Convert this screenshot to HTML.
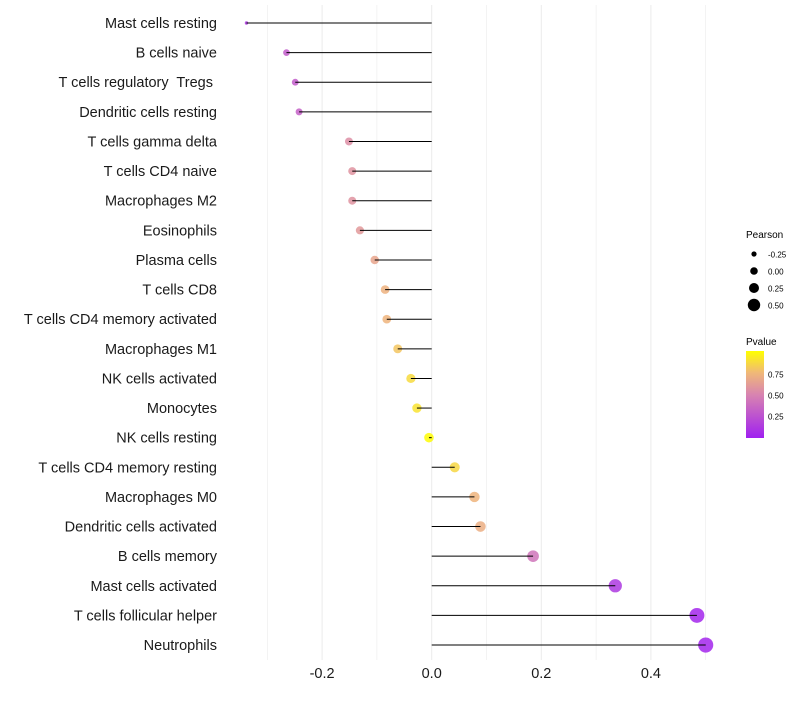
<!DOCTYPE html>
<html><head><meta charset="utf-8"><style>
body{margin:0;background:#fff;}
svg text{font-family:"Liberation Sans",sans-serif;white-space:pre;}
</style></head><body>
<svg id="chart" width="800" height="700" xmlns="http://www.w3.org/2000/svg">
<g id="grid"></g>
<g id="marks"></g>
<g id="ylabels"></g>
<g id="xlabels"></g>
<g>
<text x="746" y="238" font-size="10" fill="#000">Pearson</text>
<circle cx="754" cy="254" r="2.6" fill="#000"/><text x="768" y="257.5" font-size="8">-0.25</text>
<circle cx="754" cy="271" r="3.8" fill="#000"/><text x="768" y="274.5" font-size="8">0.00</text>
<circle cx="754" cy="288" r="5" fill="#000"/><text x="768" y="291.5" font-size="8">0.25</text>
<circle cx="754" cy="305" r="6.2" fill="#000"/><text x="768" y="308.5" font-size="8">0.50</text>
</g>
<g>
<defs><linearGradient id="pg" x1="0" y1="1" x2="0" y2="0">
<stop offset="0" stop-color="#a020f0"/><stop offset="0.5" stop-color="#d884b0"/><stop offset="0.75" stop-color="#f0b878"/><stop offset="1" stop-color="#ffff00"/></linearGradient></defs>
<text x="746" y="345" font-size="10">Pvalue</text>
<rect x="746" y="351" width="18" height="87" fill="url(#pg)"/>
<text x="768" y="377.5" font-size="8">0.75</text>
<text x="768" y="398.5" font-size="8">0.50</text>
<text x="768" y="419.5" font-size="8">0.25</text>
</g>
</svg>
<script>
const categories=["Mast cells resting","B cells naive","T cells regulatory  Tregs ","Dendritic cells resting","T cells gamma delta","T cells CD4 naive","Macrophages M2","Eosinophils","Plasma cells","T cells CD8","T cells CD4 memory activated","Macrophages M1","NK cells activated","Monocytes","NK cells resting","T cells CD4 memory resting","Macrophages M0","Dendritic cells activated","B cells memory","Mast cells activated","T cells follicular helper","Neutrophils"];
const pearson=[-0.338,-0.265,-0.249,-0.242,-0.151,-0.145,-0.145,-0.131,-0.104,-0.085,-0.082,-0.062,-0.038,-0.027,-0.005,0.042,0.078,0.089,0.185,0.335,0.484,0.5];
const pvalues=[0.12,0.3,0.3,0.32,0.55,0.57,0.57,0.6,0.66,0.72,0.73,0.8,0.87,0.9,0.99,0.86,0.73,0.7,0.42,0.12,0.03,0.03];
const xTicks=[-0.2,0,0.2,0.4];
const xTickLabels=["-0.2","0.0","0.2","0.4"];
const gridVals=[-0.3,-0.2,-0.1,0,0.1,0.2,0.3,0.4,0.5];
const NS="http://www.w3.org/2000/svg";
function xs(v){return 431.7+v*548;}
function ys(i){return 23+i*29.62;}
function rs(v){return v<-0.3?1.7:4.8+5.5*v;}
function hex(c){return [parseInt(c.slice(1,3),16),parseInt(c.slice(3,5),16),parseInt(c.slice(5,7),16)];}
const stops=[[0,"#a020f0"],[0.5,"#d884b0"],[0.75,"#f0b878"],[1,"#ffff00"]];
function col(p){for(let k=0;k<stops.length-1;k++){const a=stops[k],b=stops[k+1];if(p<=b[0]||k==stops.length-2){const t=Math.min(1,Math.max(0,(p-a[0])/(b[0]-a[0])));const ca=hex(a[1]),cb=hex(b[1]);return "rgb("+ca.map((x,j)=>Math.round(x+(cb[j]-x)*t)).join(",")+")";}}}
function mk(t,at,parent){const e=document.createElementNS(NS,t);for(const k in at)e.setAttribute(k,at[k]);document.getElementById(parent).appendChild(e);return e;}
gridVals.forEach(v=>{
const l=mk("line",{x1:xs(v),x2:xs(v),y1:5,y2:660,stroke:"#ebebeb","stroke-width":xTicks.includes(v)?1:0.6},"grid");


});
categories.forEach((c,i)=>{
const y=ys(i);
const p=mk("circle",{cx:xs(pearson[i]),cy:y,r:rs(pearson[i]),fill:col(pvalues[i]),"fill-opacity":0.85},"marks");


const s=mk("line",{x1:xs(0),x2:xs(pearson[i]),y1:y,y2:y,stroke:"#000","stroke-width":1},"marks");


const t=mk("text",{x:217,y:y+5,"text-anchor":"end","font-size":14.5,fill:"#1a1a1a"},"ylabels");
t.textContent=c;


});
xTicks.forEach((v,i)=>{
const t=mk("text",{x:xs(v),y:678,"text-anchor":"middle","font-size":14.5,fill:"#1a1a1a"},"xlabels");
t.textContent=xTickLabels[i];


});
</script>
</body></html>
